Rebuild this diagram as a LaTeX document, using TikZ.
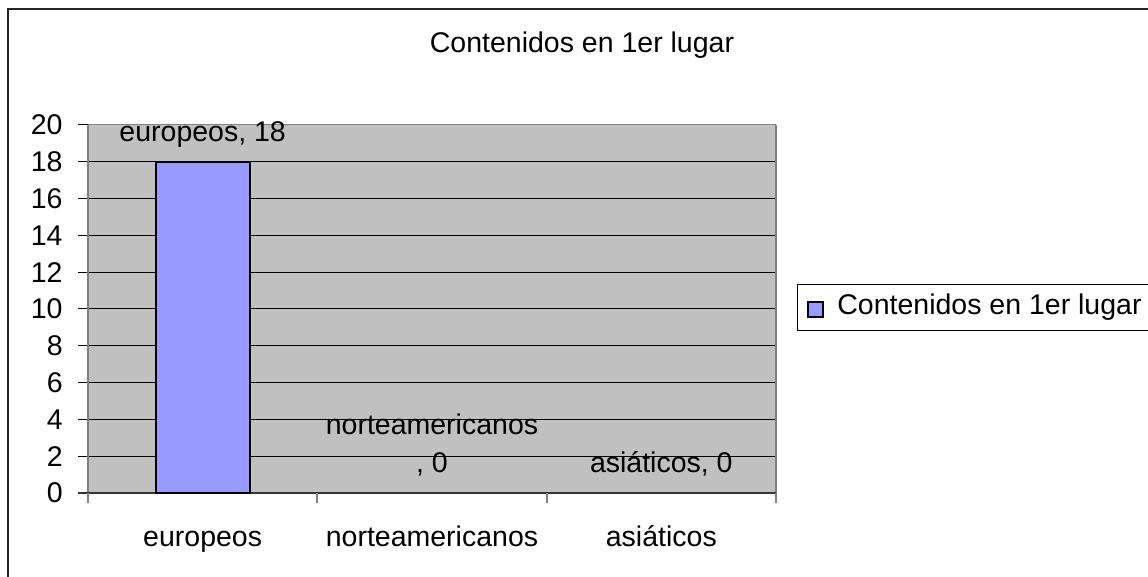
\documentclass[tikz,border=0pt]{standalone}
\usepackage{fontspec}
\setmainfont{Liberation Sans}
\usetikzlibrary{positioning}

\definecolor{plotgray}{HTML}{C0C0C0}
\definecolor{axisgray}{HTML}{808080}
\definecolor{barblue}{HTML}{9999FF}

\begin{document}
\begin{tikzpicture}[x=0.5pt, y=-0.5pt]

\def\xl{88}
\def\xr{776}
\def\yt{125}
\def\yb{493}
\def\dy{18.4}
\def\xt{78}
\def\xlab{63}
\def\dcat{229.33}

\def\xba{156}
\def\xbb{250}

\tikzset{lbl/.style={inner sep=0pt, font=\fontsize{14.25}{19}\selectfont}}
\tikzset{gridline/.style={black, line width=0.5pt}}
\tikzset{xtick/.style={axisgray, line width=1pt}}

\useasboundingbox (0,0) rectangle (1148,577);

%outer frame
\draw[black!85, line width=1pt] (8,600) -- (8,9) -- (1170,9);

%plot area
\fill[plotgray] (\xl,\yt) rectangle (\xr,\yb);

%grid lines with ticks
\draw[gridline] (\xt,{\yb- 2*\dy}) -- (\xr,{\yb- 2*\dy});
\draw[gridline] (\xt,{\yb- 4*\dy}) -- (\xr,{\yb- 4*\dy});
\draw[gridline] (\xt,{\yb- 6*\dy}) -- (\xr,{\yb- 6*\dy});
\draw[gridline] (\xt,{\yb- 8*\dy}) -- (\xr,{\yb- 8*\dy});
\draw[gridline] (\xt,{\yb-10*\dy}) -- (\xr,{\yb-10*\dy});
\draw[gridline] (\xt,{\yb-12*\dy}) -- (\xr,{\yb-12*\dy});
\draw[gridline] (\xt,{\yb-14*\dy}) -- (\xr,{\yb-14*\dy});
\draw[gridline] (\xt,{\yb-16*\dy}) -- (\xr,{\yb-16*\dy});
\draw[gridline] (\xt,{\yb-18*\dy}) -- (\xr,{\yb-18*\dy});
\draw[gridline] (\xt,\yt) -- (\xl,\yt);
\draw[axisgray, line width=0.5pt] (\xl,\yt) -- (\xr,\yt);

%axes
\draw[axisgray, line width=1pt] (\xr,\yt) -- (\xr,\yb);
\draw[axisgray, line width=1pt] (\xl,\yt) -- (\xl,\yb);
\draw[black!80, line width=1pt] (\xt,\yb) -- (\xr,\yb);
\draw[xtick] (\xl,\yb) -- (\xl,503);
\draw[xtick] ({\xl+\dcat},\yb) -- ({\xl+\dcat},503);
\draw[xtick] ({\xl+2*\dcat},\yb) -- ({\xl+2*\dcat},503);
\draw[xtick] (\xr,\yb) -- (\xr,503);

%bar
\draw[fill=barblue, line width=1pt] (\xba,\yb) rectangle (\xbb,{\yb-18*\dy});

%y labels
\node[lbl, anchor=base east] (yl0)  at (\xlab,{\yb+10}) {0};
\node[lbl, anchor=base east] (yl2)  at (\xlab,{\yb- 2*\dy+10}) {2};
\node[lbl, anchor=base east] (yl4)  at (\xlab,{\yb- 4*\dy+10}) {4};
\node[lbl, anchor=base east] (yl6)  at (\xlab,{\yb- 6*\dy+10}) {6};
\node[lbl, anchor=base east] (yl8)  at (\xlab,{\yb- 8*\dy+10}) {8};
\node[lbl, anchor=base east] (yl10) at (\xlab,{\yb-10*\dy+10}) {10};
\node[lbl, anchor=base east] (yl12) at (\xlab,{\yb-12*\dy+10}) {12};
\node[lbl, anchor=base east] (yl14) at (\xlab,{\yb-14*\dy+10}) {14};
\node[lbl, anchor=base east] (yl16) at (\xlab,{\yb-16*\dy+10}) {16};
\node[lbl, anchor=base east] (yl18) at (\xlab,{\yb-18*\dy+10}) {18};
\node[lbl, anchor=base east] (yl20) at (\xlab,{\yb-20*\dy+10}) {20};

%category labels
\node[lbl, anchor=base] (cat1) at ({\xl+0.5*\dcat},547) {europeos};
\node[lbl, anchor=base] (cat2) at ({\xl+1.5*\dcat},547) {norteamericanos};
\node[lbl, anchor=base] (cat3) at ({\xl+2.5*\dcat},547) {asiáticos};

%data labels
\node[lbl, anchor=base] (dat1) at ({\xl+0.5*\dcat},142) {europeos, 18};
\node[lbl, anchor=base] (dat2a) at ({\xl+1.5*\dcat},435) {norteamericanos};
\node[lbl, anchor=base] (dat2b) at ({\xl+1.5*\dcat},473) {, 0};
\node[lbl, anchor=base] (dat3) at ({\xl+2.5*\dcat},473) {asiáticos, 0};

%title
\node[lbl, anchor=base] (title) at (582,53) {Contenidos en 1er lugar};

%legend
\draw[black, line width=0.5pt] (1170,285) -- (797,285) -- (797,331) -- (1170,331);
\draw[fill=barblue, line width=0.75pt] (808,302) rectangle (823,317);
\node[lbl, anchor=base west] (leg) at (837,315) {Contenidos en 1er lugar};

\end{tikzpicture}
\end{document}
